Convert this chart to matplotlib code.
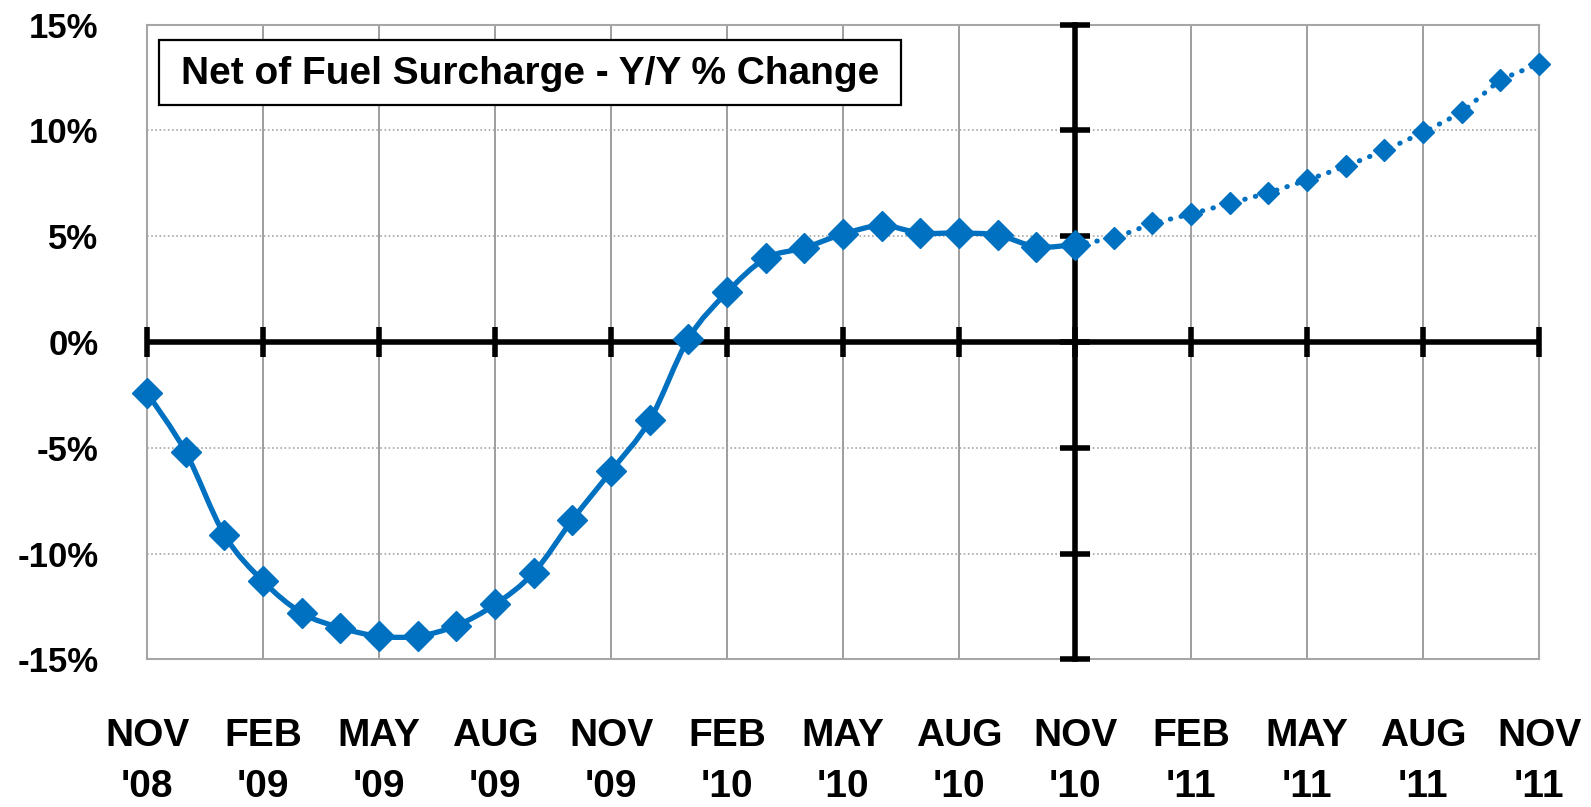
import numpy as np
import matplotlib.pyplot as plt
from matplotlib.path import Path
from matplotlib.patches import PathPatch, Rectangle

# monthly Y/Y % change, Nov '08 .. Nov '10 (actual)
actual = [-2.4, -5.2, -9.1, -11.3, -12.8, -13.5, -13.9, -13.9, -13.4, -12.4,
          -10.9, -8.4, -6.1, -3.7, 0.15, 2.35, 3.95, 4.45, 5.1, 5.5,
          5.15, 5.15, 5.05, 4.5, 4.6]
# Nov '10 .. Nov '11 (projection)
projected = [4.6, 4.9, 5.6, 6.05, 6.55, 7.05, 7.65, 8.3, 9.05, 9.9,
             10.85, 12.4, 13.15]

tick_labels = ["NOV\n'08", "FEB\n'09", "MAY\n'09", "AUG\n'09", "NOV\n'09",
               "FEB\n'10", "MAY\n'10", "AUG\n'10", "NOV\n'10", "FEB\n'11",
               "MAY\n'11", "AUG\n'11", "NOV\n'11"]
y_ticks = [-15, -10, -5, 0, 5, 10, 15]

blue = '#0070C0'
grid = '#969696'
font = 'Liberation Sans'


def smooth_path(x, y):
    # excel-style smoothed line: catmull-rom turned into cubic beziers
    p = np.column_stack([x, y]).astype(float)
    n = len(p)
    verts = [p[0]]
    codes = [Path.MOVETO]
    for i in range(n - 1):
        p0 = p[i - 1] if i > 0 else p[i]
        p3 = p[i + 2] if i + 2 < n else p[i + 1]
        c1 = p[i] + (p[i + 1] - p0) / 6
        c2 = p[i + 1] - (p3 - p[i]) / 6
        verts += [c1, c2, p[i + 1]]
        codes += [Path.CURVE4] * 3
    return Path(verts, codes)


fig = plt.figure(figsize=(15.91, 8.07), dpi=100)
ax = fig.add_axes([0.0924, 0.1828, 0.8750, 0.7868])

n_act = len(actual)
x_act = np.arange(n_act)
x_proj = np.arange(n_act - 1, n_act - 1 + len(projected))
x_end = x_proj[-1]
quarters = np.arange(0, x_end + 1, 3)
zero_x = n_act - 1

ax.set_xlim(0, x_end)
ax.set_ylim(-15, 15)

# grid
for q in quarters:
    ax.axvline(q, color=grid, lw=1.3, zorder=1)
for v in [-10, -5, 5, 10]:
    ax.axhline(v, color='#a6a6a6', lw=1.2, ls=(0, (1, 1.5)), zorder=1)
for s in ax.spines.values():
    s.set_color('#a6a6a6')
    s.set_linewidth(1.5)

# axes through the middle
ax.axhline(0, color='black', lw=4, zorder=3)
ax.axvline(zero_x, color='black', lw=4, zorder=3, clip_on=False)
ax.plot(quarters, np.zeros(len(quarters)), ls='none', marker='|',
        ms=21, mew=4, color='black', zorder=3, clip_on=False)
ax.plot(np.full(len(y_ticks), zero_x), y_ticks, ls='none', marker='_',
        ms=22, mew=4, color='black', zorder=3, clip_on=False)

# data
ax.add_patch(PathPatch(smooth_path(x_act, actual), fill=False,
                       edgecolor=blue, lw=3.8, zorder=4))
ax.plot(x_act, actual, ls='none', marker='D', ms=15, color=blue, zorder=5,
        clip_on=False)
ax.plot(x_proj, projected, ls=(0, (0.1, 2.1)), lw=3.6,
        dash_capstyle='round', marker='D', ms=11, color=blue, zorder=5,
        clip_on=False)

ax.set_xticks(quarters)
ax.set_xticklabels(tick_labels, fontsize=28, fontweight='bold',
                   family=font, linespacing=1.55)
ax.set_yticks(y_ticks)
ax.set_yticklabels([f"{v}%" for v in y_ticks], fontsize=25,
                   fontweight='bold', family=font)
ax.tick_params(axis='x', length=0, pad=42)
ax.tick_params(axis='y', length=0, pad=35)

# label box
ax.add_patch(Rectangle((0.0086, 0.8732), 0.5331, 0.1024,
                       transform=ax.transAxes, facecolor='white',
                       edgecolor='black', lw=1.6, zorder=6))
ax.text(0.275, 0.922, "Net of Fuel Surcharge - Y/Y % Change",
        transform=ax.transAxes, ha='center', va='center', fontsize=28,
        fontweight='bold', family=font, zorder=7)

# title, cut off by the top edge in the original
fig.text(0.507, 1 + 2 / 807, "Truckload Rates", ha='center', va='baseline',
         fontsize=50, fontweight='bold', family=font)

fig.savefig('out.png', dpi=100)
